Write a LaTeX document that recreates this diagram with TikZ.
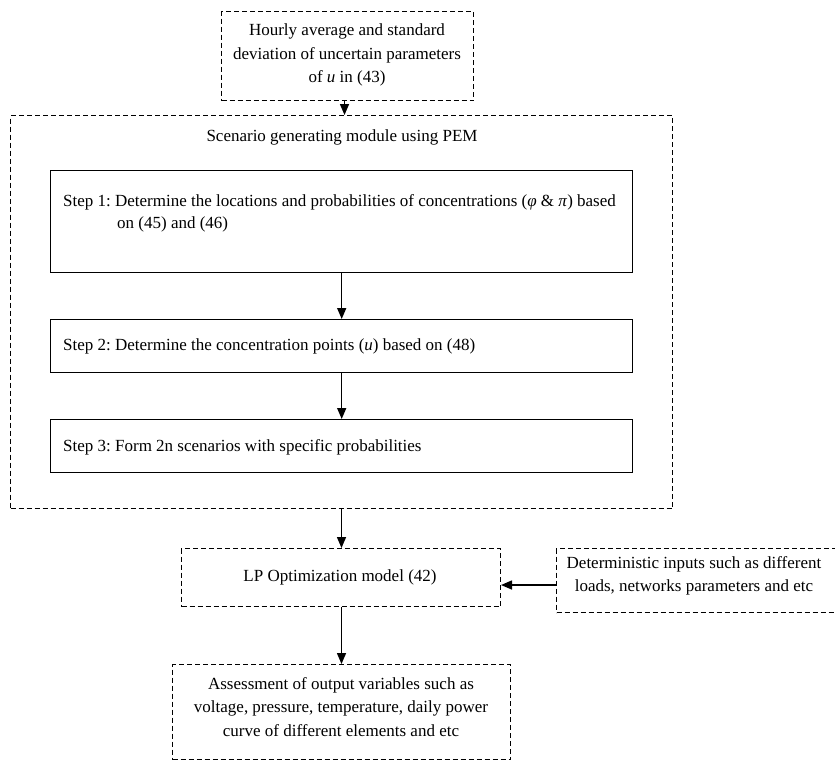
\documentclass[tikz,border=0pt]{standalone}
\usepackage{fontspec}
\setmainfont{Liberation Serif}
\usetikzlibrary{arrows.meta}
\frenchspacing
\begin{document}
\begin{tikzpicture}[x=1pt,y=-1pt,
 dbox/.style={draw, dash pattern=on 5pt off 3pt, line width=1pt, inner sep=0, anchor=north west},
 sbox/.style={draw, line width=1.4pt, inner sep=0, anchor=north west},
 txt/.style={font=\fontsize{17}{23.5}\selectfont, inner sep=0, align=center},
 arr/.style={-{Triangle[length=11pt,width=9pt]}, line width=1.5pt}]
\useasboundingbox (0,0) rectangle (835,761);
% boxes
\node (top) [dbox, minimum width=252pt, minimum height=89pt] at (221,11) {};
\node (big) [dbox, minimum width=662pt, minimum height=393pt] at (10,115) {};
\node (s1) [sbox, minimum width=582pt, minimum height=102pt] at (50,170) {};
\node (s2) [sbox, minimum width=582pt, minimum height=53pt] at (50,319) {};
\node (s3) [sbox, minimum width=582pt, minimum height=53pt] at (50,419) {};
\node (lp) [dbox, minimum width=319pt, minimum height=58pt] at (181,548) {};
\node (det) [dbox, minimum width=300pt, minimum height=64pt] at (556,548) {};
\node (out) [dbox, minimum width=338pt, minimum height=95pt] at (172,664) {};
% texts
\node (ttop) [txt] at (347,55) {Hourly average and standard\\deviation of uncertain parameters\\of \textit{u} in (43)};
\node (tbig) [txt] at (342,137) {Scenario generating module using PEM};
\node (ts1a) [txt, anchor=west] at (63,202) {Step 1: Determine the locations and probabilities of concentrations (\textit{φ} \& \textit{π}) based};
\node (ts1b) [txt, anchor=west] at (117,224) {on (45) and (46)};
\node (ts2) [txt, anchor=west] at (63,346) {Step 2: Determine the concentration points (\textit{u}) based on (48)};
\node (ts3) [txt, anchor=west] at (63,447) {Step 3: Form 2n scenarios with specific probabilities};
\node (tlp) [txt] at (340,577) {LP Optimization model (42)};
\node (tdet) [txt] at (694,576) {Deterministic inputs such as different\\loads, networks parameters and etc};
\node (tout) [txt] at (341,707) {Assessment of output variables such as\\voltage, pressure, temperature, daily power\\curve of different elements and etc};
% connectors
\draw[arr] (top.south -| big.north) ++(3,0) coordinate (a0) -- (a0 |- big.north);
\draw[arr] (s1.south) -- (s2.north);
\draw[arr] (s2.south) -- (s3.north);
\draw[arr] (big.south) -- (big.south |- lp.north);
\draw[arr] (det.west |- 0,585) coordinate (d0) -- (d0 -| lp.east);
\draw[arr] (lp.south -| big.south) -- (big.south |- out.north);
\end{tikzpicture}
\end{document}
